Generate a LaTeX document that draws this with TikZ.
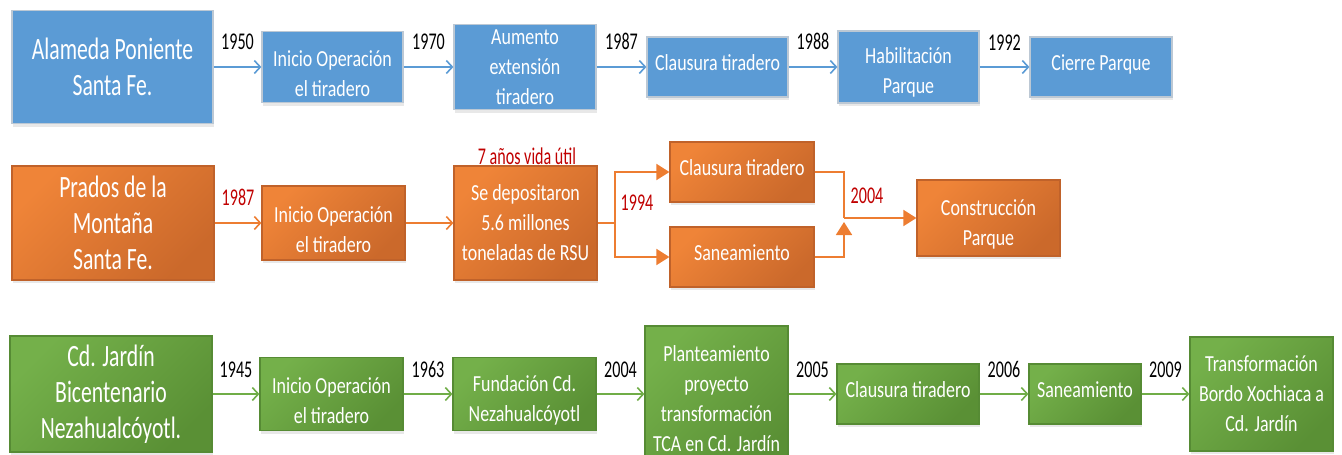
\documentclass[tikz,border=0pt]{standalone}
\usepackage{fontspec}
\setmainfont{Carlito}
\newfontfamily\boxf{Carlito}[FakeStretch=0.78]
\newfontfamily\bigf{Carlito}[FakeStretch=0.70]
\newfontfamily\yearf{Carlito}[FakeStretch=0.67]
\usetikzlibrary{arrows.meta,shadows,calc}
\newcommand\lowtxt{\rule{0pt}{29pt}}
\newcommand\uptxt{\rule[-9pt]{0pt}{9pt}}
\definecolor{bl}{HTML}{5B9BD5}
\definecolor{blb}{HTML}{BCC8D4}
\definecolor{orL}{HTML}{EF8438}
\definecolor{orD}{HTML}{CB692B}
\definecolor{orB}{HTML}{C0622A}
\definecolor{orA}{HTML}{ED7D31}
\definecolor{grL}{HTML}{74B04A}
\definecolor{grD}{HTML}{5A9035}
\definecolor{grB}{HTML}{568B34}
\definecolor{grA}{HTML}{70AD47}
\definecolor{rd}{HTML}{C00000}
\tikzset{
  bx/.style={inner sep=0pt, align=center, text=white, line width=1.2pt,
    font=\boxf\fontsize{23}{30}\selectfont,
    drop shadow={opacity=0.18, shadow xshift=1pt, shadow yshift=-3pt}},
  bigtxt/.style={font=\bigf\fontsize{31}{36}\selectfont},
  bluebox/.style={bx, fill=bl, draw=blb},
  orbox/.style={bx, draw=orB, top color=orL, bottom color=orD, shading angle=45},
  grbox/.style={bx, draw=grB, top color=grL, bottom color=grD, shading angle=45},
  yr/.style={inner sep=0pt, font=\yearf\fontsize{24}{26}\selectfont},
  ryr/.style={yr, text=rd},
  barr/.style={draw=bl, line width=1.8pt, -{Straight Barb[length=6pt,width=13pt,line width=1.6pt]}},
  garr/.style={draw=grA, line width=1.8pt, -{Straight Barb[length=6pt,width=13pt,line width=1.6pt]}},
  oarr/.style={draw=orA, line width=1.8pt, -{Straight Barb[length=6pt,width=13pt,line width=1.6pt]}},
  otri/.style={draw=orA, line width=1.8pt, -{Triangle[length=13pt,width=16pt]}},
  oline/.style={draw=orA, line width=1.8pt},
}
\begin{document}
\begin{tikzpicture}[x=1pt,y=-1pt]
\useasboundingbox (0,0) rectangle (1342,455);
\clip (0,0) rectangle (1342,455);
% Row 1
\node[bluebox, bigtxt, minimum width=201, minimum height=113] (a1) at (112.5,67) {Alameda Poniente\\Santa Fe.};
\node[bluebox, minimum width=141, minimum height=71] (b1) at (332.5,67) {\lowtxt Inicio Operación\\el tiradero};
\node[bluebox, minimum width=142, minimum height=85] (c1) at (525,67) {Aumento\\extensión\\tiradero};
\node[bluebox, minimum width=141, minimum height=60] (d1) at (717.5,67) {Clausura tiradero\uptxt};
\node[bluebox, minimum width=141, minimum height=72] (e1) at (908.5,67) {};
\node[text=white, inner sep=0pt, align=center, font=\boxf\fontsize{23}{30}\selectfont] (e1t) at (908.5,72) {Habilitación\\Parque};
\node[bluebox, minimum width=142, minimum height=60] (f1) at (1101,67) {Cierre Parque\uptxt};
\draw[barr] (a1.east) -- (b1.west) node[yr, midway, above=16pt] (y1950) {1950};
\draw[barr] (b1.east) -- (c1.west) node[yr, midway, above=16pt] (y1970) {1970};
\draw[barr] (c1.east) -- (d1.west) node[yr, midway, above=16pt] (y1987) {1987};
\draw[barr] (d1.east) -- (e1.west) node[yr, midway, above=16pt] (y1988) {1988};
\draw[barr] (e1.east) -- (f1.west) node[yr, midway, above=16pt] (y1992) {1992};
% Row 2
\node[orbox, bigtxt, minimum width=202, minimum height=114] (a2) at (113,223) {Prados de la\\Montaña\\Santa Fe.};
\node[orbox, minimum width=143, minimum height=74] (b2) at (333.5,223) {\lowtxt Inicio Operación\\el tiradero};
\node[orbox, minimum width=143, minimum height=114] (c2) at (525.5,223) {Se depositaron\\5.6 millones\\toneladas de RSU};
\node[orbox, minimum width=144, minimum height=60] (d2) at (742,172) {Clausura tiradero\uptxt};
\node[orbox, minimum width=144, minimum height=60] (e2) at (742,257) {Saneamiento\uptxt};
\node[orbox, minimum width=143, minimum height=76] (f2) at (988.5,218) {\lowtxt Construcción\\Parque};
\node[ryr] (vida) at (527,156) {7 años vida útil};
\draw[oarr] (a2.east) -- (b2.west) node[ryr, midway, above=16pt] (r1987) {1987};
\draw[oarr] (b2.east) -- (c2.west);
\coordinate (sp) at (615,223);
\coordinate (jn) at (844,218);
\draw[oline] (c2.east) -- (sp);
\draw[otri] (sp) |- (d2.west);
\draw[otri] (sp) |- (e2.west);
\node[ryr] (r1994) at (637,203) {1994};
\draw[oline] (d2.east) -| (jn);
\draw[otri] (e2.east) -| ($(jn)+(0,4)$);
\draw[otri] (jn) -- (f2.west);
\node[ryr] (r2004) at (867,196) {2004};
% Row 3
\node[grbox, bigtxt, minimum width=202, minimum height=116] (a3) at (111,394) {Cd. Jardín\\Bicentenario\\Nezahualcóyotl.};
\node[grbox, minimum width=143, minimum height=73] (b3) at (331.5,394) {\lowtxt Inicio Operación\\el tiradero};
\node[grbox, minimum width=143, minimum height=73] (c3) at (524.5,394) {\lowtxt Fundación Cd.\\Nezahualcóyotl};
\node[grbox, minimum width=143, minimum height=146] (d3) at (716.5,399) {Planteamiento\\proyecto\\transformación\\TCA en Cd. Jardín};
\node[grbox, minimum width=142, minimum height=60] (e3) at (908,394) {Clausura tiradero\uptxt};
\node[grbox, minimum width=112, minimum height=60] (f3) at (1085,394) {Saneamiento\uptxt};
\node[grbox, minimum width=143, minimum height=114] (g3) at (1261.5,394) {Transformación\\Bordo Xochiaca a\\Cd. Jardín};
\draw[garr] (a3.east) -- (b3.west) node[yr, midway, above=15pt] (y1945) {1945};
\draw[garr] (b3.east) -- (c3.west) node[yr, midway, above=15pt] (y1963) {1963};
\draw[garr] (c3.east) -- (c3.east -| d3.west) node[yr, midway, above=15pt] (y2004) {2004};
\draw[garr] (e3.west -| d3.east) -- (e3.west) node[yr, midway, above=15pt] (y2005) {2005};
\draw[garr] (e3.east) -- (f3.west) node[yr, midway, above=15pt] (y2006) {2006};
\draw[garr] (f3.east) -- (g3.west) node[yr, midway, above=15pt] (y2009) {2009};
\end{tikzpicture}
\end{document}
